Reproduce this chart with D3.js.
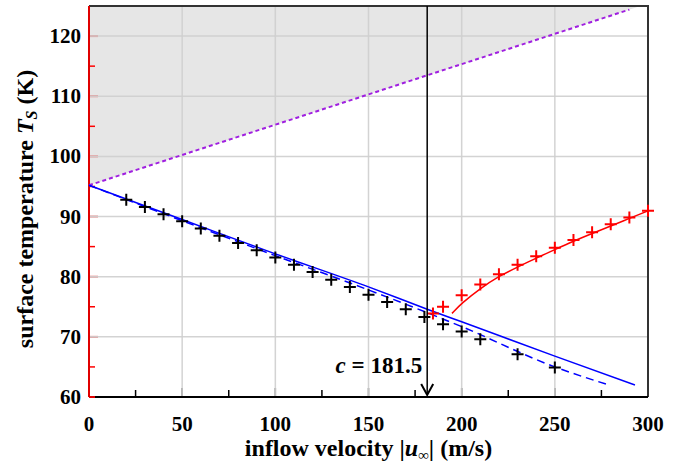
<!DOCTYPE html>
<html><head><meta charset="utf-8">
<script src="https://cdn.jsdelivr.net/npm/d3@7"></script>
<style>body{margin:0;background:#fff}svg{display:block}</style>
</head><body>
<svg id="c" width="697" height="466"></svg>
<script>
// ---- data ----
const xTicks = [0, 50, 100, 150, 200, 250, 300];
const yTicks = [60, 70, 80, 90, 100, 110, 120];
const measuredU = [20,30,40,50,60,70,80,90,100,110,120,130,140,150,160,170,180,190,200,210,230,250];
const measuredT = [92.8,91.6,90.4,89.2,88.0,86.8,85.6,84.4,83.2,82.0,80.8,79.5,78.3,77.0,75.8,74.6,73.3,72.1,70.9,69.6,67.1,64.9];
const redU = [184.6,190,200,210,220,230,240,250,260,270,280,290,300];
const redT = [73.9,75.0,76.9,78.7,80.4,82.0,83.4,84.8,86.1,87.4,88.7,89.85,90.95];
const redLineU = [194.8,200,210,220,230,240,250,260,270,280,290,300];
const redLineT = [73.9,75.6,78.05,80.1,81.6,83.1,84.5,85.9,87.2,88.4,89.7,90.95];
const solidU = [0,50,100,150,181.5,200,250,293];
const solidT = [95.2,89.5,83.8,78.3,74.6,72.5,66.8,62.0];
const dashU = [0,50,100,150,200,250,279];
const dashT = [95.2,89.3,83.5,77.8,71.7,65.0,62.0];
const boundU = [0, 290];
const boundT = [95.2, 124.4];
const cValue = 181.5;

// ---- layout ----
const svg = d3.select('#c');
const W = 697, H = 466;
const m = {l: 89, r: 49, t: 6, b: 69};
const x = d3.scaleLinear().domain([0, 300]).range([m.l, W - m.r]);
const y = d3.scaleLinear().domain([60, 125]).range([H - m.b, m.t]);
const font = "'Liberation Serif','Times New Roman',serif";

// shaded region above the bound line
const slope = (boundT[1] - boundT[0]) / (boundU[1] - boundU[0]);
const uTop = (125 - boundT[0]) / slope;
svg.append('path')
  .attr('d', d3.line()([[x(0), y(boundT[0])], [x(uTop), y(125)], [x(0), y(125)]]) + 'Z')
  .attr('fill', '#e6e6e6');

// minor ticks
const g = svg.append('g');
d3.range(25, 300, 50).forEach(v => {
  g.append('line').attr('x1', x(v)).attr('x2', x(v)).attr('y1', y(60)).attr('y2', y(60) - 7)
    .attr('stroke', '#000').attr('stroke-width', 1.5);
});
d3.range(65, 125, 10).forEach(v => {
  g.append('line').attr('x1', x(0)).attr('x2', x(0) + 6).attr('y1', y(v)).attr('y2', y(v))
    .attr('stroke', '#ff0000').attr('stroke-width', 1.5);
});
// major ticks
xTicks.slice(1, -1).forEach(v => {
  g.append('line').attr('x1', x(v)).attr('x2', x(v)).attr('y1', y(60)).attr('y2', y(60) - 9)
    .attr('stroke', '#555').attr('stroke-width', 1.5);
});
yTicks.slice(1).forEach(v => {
  g.append('line').attr('x1', x(0)).attr('x2', x(0) + 9).attr('y1', y(v)).attr('y2', y(v))
    .attr('stroke', '#e88080').attr('stroke-width', 2);
});

// gridlines
xTicks.slice(1, -1).forEach(v => {
  g.append('line').attr('x1', x(v)).attr('x2', x(v)).attr('y1', y(125)).attr('y2', y(60))
    .attr('stroke', '#cfcfcf').attr('stroke-width', 1.5).attr('opacity', 0.9);
});
yTicks.slice(1).forEach(v => {
  g.append('line').attr('x1', x(0)).attr('x2', x(300)).attr('y1', y(v)).attr('y2', y(v))
    .attr('stroke', '#cfcfcf').attr('stroke-width', 1.5).attr('opacity', 0.9);
});

// frame
svg.append('path').attr('d', `M${x(0)},${y(125)}H${x(300)}V${y(60)}`)
  .attr('fill', 'none').attr('stroke', '#333').attr('stroke-width', 2);
svg.append('line').attr('x1', x(0)).attr('x2', x(300)).attr('y1', y(60)).attr('y2', y(60))
  .attr('stroke', '#000').attr('stroke-width', 2);
svg.append('line').attr('x1', x(0)).attr('x2', x(0) + 6).attr('y1', y(60)).attr('y2', y(60))
  .attr('stroke', '#e00000').attr('stroke-width', 2);
svg.append('line').attr('x1', x(0)).attr('x2', x(0)).attr('y1', y(125)).attr('y2', y(60))
  .attr('stroke', '#e00000').attr('stroke-width', 2);

// curves
const line = d3.line().x(d => x(d[0])).y(d => y(d[1])).curve(d3.curveMonotoneX);
svg.append('path').datum(boundU.map((u, i) => [u, boundT[i]]))
  .attr('d', d3.line().x(d => x(d[0])).y(d => y(d[1])))
  .attr('fill', 'none').attr('stroke', '#a020e0').attr('stroke-width', 2).attr('stroke-dasharray', '4,3');
svg.append('path').datum(dashU.map((u, i) => [u, dashT[i]]))
  .attr('d', line).attr('fill', 'none').attr('stroke', '#0000ff').attr('stroke-width', 1.5)
  .attr('stroke-dasharray', '8,5');
svg.append('path').datum(solidU.map((u, i) => [u, solidT[i]]))
  .attr('d', line).attr('fill', 'none').attr('stroke', '#0000ff').attr('stroke-width', 1.5);
svg.append('path').datum(redLineU.map((u, i) => [u, redLineT[i]]))
  .attr('d', d3.line().x(d => x(d[0])).y(d => y(d[1])).curve(d3.curveBasis))
  .attr('fill', 'none').attr('stroke', '#ff0000').attr('stroke-width', 1.5);

// crosses
const cross = (sel, data, color) => {
  const s = 6;
  sel.selectAll(null).data(data).enter().append('path')
    .attr('d', d => `M${x(d[0]) - s},${y(d[1])}H${x(d[0]) + s}M${x(d[0])},${y(d[1]) - s}V${y(d[1]) + s}`)
    .attr('stroke', color).attr('stroke-width', 2).attr('fill', 'none');
};
cross(svg.append('g'), measuredU.map((u, i) => [u, measuredT[i]]), '#000');
cross(svg.append('g'), redU.map((u, i) => [u, redT[i]]), '#ff0000');

// arrow
svg.append('line').attr('x1', x(cValue)).attr('x2', x(cValue)).attr('y1', y(125)).attr('y2', y(60) - 2)
  .attr('stroke', '#000').attr('stroke-width', 1.5);
svg.append('path')
  .attr('d', `M${x(cValue) - 6},${y(60) - 13}L${x(cValue)},${y(60) - 2}L${x(cValue) + 6},${y(60) - 13}`)
  .attr('fill', 'none').attr('stroke', '#000').attr('stroke-width', 2);
const lbl = svg.append('text').attr('x', x(cValue) - 5).attr('y', 373)
  .attr('text-anchor', 'end').attr('font-family', font).attr('font-weight', 'bold').attr('font-size', 23);
lbl.append('tspan').attr('font-style', 'italic').text('c');
lbl.append('tspan').text(' = ' + cValue);

// tick labels
svg.append('g').selectAll('text').data(xTicks).enter().append('text')
  .attr('x', d => x(d)).attr('y', 431).attr('text-anchor', 'middle')
  .attr('font-family', font).attr('font-weight', 'bold').attr('font-size', 21).text(d => d);
svg.append('g').selectAll('text').data(yTicks).enter().append('text')
  .attr('x', 81).attr('y', d => y(d) + 7).attr('text-anchor', 'end')
  .attr('font-family', font).attr('font-weight', 'bold').attr('font-size', 21).text(d => d);

// axis titles
const xt = svg.append('text').attr('x', (x(0) + x(300)) / 2).attr('y', 456).attr('text-anchor', 'middle')
  .attr('font-family', font).attr('font-weight', 'bold').attr('font-size', 24);
xt.append('tspan').text('inflow velocity |');
xt.append('tspan').attr('font-style', 'italic').text('u');
xt.append('tspan').attr('font-size', 15).attr('dy', 4).text('∞');
xt.append('tspan').attr('dy', -4).text('| (m/s)');

const yt = svg.append('text').attr('transform', `translate(33,209) rotate(-90)`)
  .attr('text-anchor', 'middle').attr('font-family', font).attr('font-weight', 'bold').attr('font-size', 24);
yt.append('tspan').text('surface temperature ');
yt.append('tspan').attr('font-style', 'italic').text('T');
yt.append('tspan').attr('font-style', 'italic').attr('font-size', 16).attr('dy', 4).text('S');
yt.append('tspan').attr('dy', -4).text(' (K)');
</script>
</body></html>
